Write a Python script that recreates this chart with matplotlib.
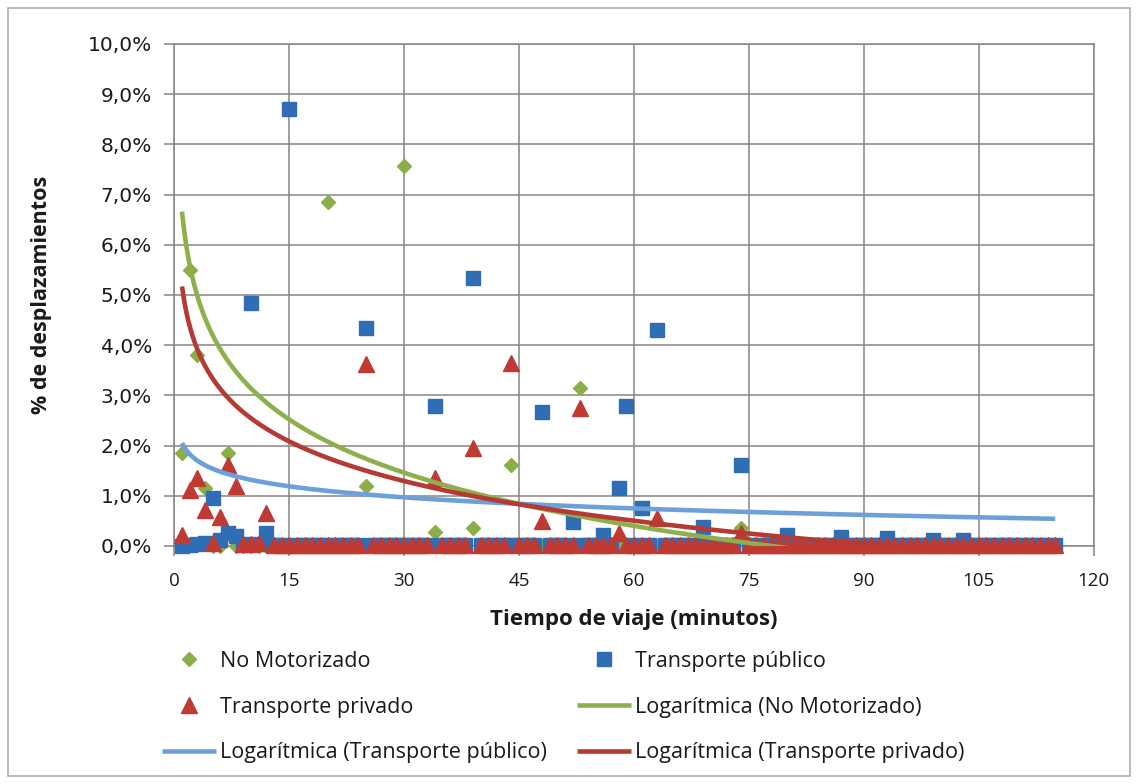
import matplotlib
matplotlib.use('Agg')
import matplotlib.pyplot as plt
import numpy as np
from matplotlib.ticker import FuncFormatter
from matplotlib.patches import Rectangle


# minutes of travel time (1 .. 115)
minutos = list(range(1, 116))

# % de desplazamientos per minute
no_motorizado = [
    1.85, 5.5, 3.8, 1.15, 0.0, 0.0, 1.85, 0.0, 0.0, 0.0,      # 1-10
    0.0, 0.0, 0.0, 0.0, 0.0, 0.0, 0.0, 0.0, 0.0, 6.85,        # 11-20
    0.0, 0.0, 0.0, 0.0, 1.2, 0.0, 0.0, 0.0, 0.0, 7.56,        # 21-30
    0.0, 0.0, 0.0, 0.28, 0.0, 0.0, 0.0, 0.0, 0.35, 0.0,       # 31-40
    0.0, 0.0, 0.0, 1.61, 0.0, 0.0, 0.0, 0.0, 0.0, 0.0,        # 41-50
    0.0, 0.0, 3.15, 0.0, 0.0, 0.0, 0.0, 0.0, 0.0, 0.0,        # 51-60
    0.0, 0.0, 0.0, 0.0, 0.0, 0.0, 0.0, 0.0, 0.0, 0.0,         # 61-70
    0.0, 0.0, 0.0, 0.35, 0.0, 0.0, 0.0, 0.0, 0.0, 0.0,        # 71-80
    0.0, 0.0, 0.0, 0.0, 0.0, 0.0, 0.0, 0.0, 0.0, 0.0,         # 81-90
    0.0, 0.0, 0.0, 0.0, 0.0, 0.0, 0.0, 0.0, 0.0, 0.0,         # 91-100
    0.0, 0.0, 0.0, 0.0, 0.0, 0.0, 0.0, 0.0, 0.0, 0.0,         # 101-110
    0.0, 0.0, 0.0, 0.0, 0.0,                                  # 111-115
]

transporte_publico = [
    0.0, 0.02, 0.03, 0.06, 0.95, 0.12, 0.25, 0.2, 0.03, 4.85,        # 1-10
    0.03, 0.25, 0.02, 0.02, 8.7, 0.02, 0.02, 0.02, 0.02, 0.02,       # 11-20
    0.02, 0.02, 0.02, 0.02, 4.35, 0.02, 0.02, 0.02, 0.02, 0.02,      # 21-30
    0.02, 0.02, 0.02, 2.78, 0.02, 0.02, 0.02, 0.02, 5.33, 0.02,      # 31-40
    0.02, 0.02, 0.02, 0.02, 0.02, 0.02, 0.02, 2.66, 0.02, 0.02,      # 41-50
    0.02, 0.48, 0.02, 0.02, 0.02, 0.22, 0.02, 1.15, 2.78, 0.02,      # 51-60
    0.75, 0.02, 4.3, 0.02, 0.02, 0.02, 0.02, 0.02, 0.38, 0.02,       # 61-70
    0.02, 0.02, 0.02, 1.62, 0.02, 0.02, 0.02, 0.02, 0.02, 0.22,      # 71-80
    0.02, 0.02, 0.02, 0.02, 0.02, 0.02, 0.18, 0.02, 0.02, 0.02,      # 81-90
    0.02, 0.02, 0.15, 0.02, 0.02, 0.02, 0.02, 0.02, 0.12, 0.02,      # 91-100
    0.02, 0.02, 0.12, 0.02, 0.02, 0.02, 0.02, 0.02, 0.02, 0.02,      # 101-110
    0.02, 0.02, 0.02, 0.02, 0.02,                                    # 111-115
]

transporte_privado = [
    0.22, 1.12, 1.35, 0.72, 0.05, 0.58, 1.61, 1.2, 0.03, 0.03,       # 1-10
    0.05, 0.65, 0.02, 0.02, 0.02, 0.02, 0.02, 0.02, 0.02, 0.02,      # 11-20
    0.02, 0.02, 0.02, 0.02, 3.62, 0.02, 0.02, 0.02, 0.02, 0.02,      # 21-30
    0.02, 0.02, 0.02, 1.35, 0.02, 0.02, 0.02, 0.02, 1.95, 0.02,      # 31-40
    0.02, 0.02, 0.02, 3.65, 0.02, 0.02, 0.02, 0.5, 0.02, 0.02,       # 41-50
    0.02, 0.02, 2.75, 0.02, 0.02, 0.02, 0.02, 0.25, 0.02, 0.02,      # 51-60
    0.02, 0.02, 0.55, 0.02, 0.02, 0.02, 0.02, 0.02, 0.02, 0.02,      # 61-70
    0.02, 0.02, 0.02, 0.25, 0.02, 0.02, 0.02, 0.02, 0.02, 0.02,      # 71-80
    0.02, 0.02, 0.02, 0.02, 0.02, 0.02, 0.02, 0.02, 0.02, 0.02,      # 81-90
    0.02, 0.02, 0.02, 0.02, 0.02, 0.02, 0.02, 0.02, 0.02, 0.02,      # 91-100
    0.02, 0.02, 0.02, 0.02, 0.02, 0.02, 0.02, 0.02, 0.02, 0.02,      # 101-110
    0.02, 0.02, 0.02, 0.02, 0.02,                                    # 111-115
]

# logarithmic trendlines y = a - b*ln(x), coefficients
series_names = ['No Motorizado', 'Transporte público', 'Transporte privado']
trend_a = [6.66, 2.05, 5.17]
trend_b = [1.529, 0.318, 1.14]

marker_colors = ['#8CAE48', '#2F6DB5', '#BE3A33']
trend_colors = ['#8DB04C', '#6CA0D8', '#B43A33']

grid_col = '#8C8484'
txt_col = '#1a1a1a'

fig = plt.figure(figsize=(11.38, 7.84), dpi=100)
ax = fig.add_axes([0.1532, 0.3036, 0.8077, 0.6403])

# scatter series (markers are not clipped, like in Excel)
h_nm, = ax.plot(minutos, no_motorizado, linestyle='none', marker='D', ms=6.8,
                color=marker_colors[0], mec=marker_colors[0], clip_on=False, zorder=3)
h_pu, = ax.plot(minutos, transporte_publico, linestyle='none', marker='s', ms=10,
                color=marker_colors[1], mec=marker_colors[1], clip_on=False, zorder=4)
h_pr, = ax.plot(minutos, transporte_privado, linestyle='none', marker='^', ms=12,
                color=marker_colors[2], mec=marker_colors[2], clip_on=False, zorder=5)

# trendlines
xt = np.linspace(min(minutos), max(minutos), 400)
trend_handles = []
for i in range(3):
    yt = trend_a[i] - trend_b[i] * np.log(xt)
    h, = ax.plot(xt, yt, color=trend_colors[i], lw=3.3, zorder=6,
                 solid_capstyle='butt')
    trend_handles.append(h)

ax.set_xlim(0, 120)
ax.set_ylim(0, 10)
ax.set_xticks(np.arange(0, 121, 15))
ax.set_yticks(np.arange(0, 10.1, 1))
ax.yaxis.set_major_formatter(FuncFormatter(lambda v, p: ('%.1f%%' % v).replace('.', ',')))

ax.grid(True, color=grid_col, lw=1.1)
ax.set_axisbelow(True)
for s in ax.spines.values():
    s.set_color(grid_col)
    s.set_linewidth(1.1)

ax.tick_params(axis='y', direction='out', length=7, width=1.1, color=grid_col,
               labelsize=14.5, labelcolor=txt_col, pad=9)
ax.tick_params(axis='x', direction='out', length=7, width=1.1, color=grid_col,
               labelsize=13.5, labelcolor=txt_col, pad=12)
for lab in ax.get_yticklabels():
    lab.set_fontfamily('DejaVu Sans')
for lab in ax.get_xticklabels():
    lab.set_fontfamily('Open Sans')

ax.set_ylabel('% de desplazamientos', fontsize=15.5, fontweight='bold',
              family='Open Sans', color=txt_col)
ax.yaxis.set_label_coords(-0.133, 0.5)
ax.set_xlabel('Tiempo de viaje (minutos)', fontsize=16, fontweight='bold',
              family='Open Sans', color=txt_col)
ax.xaxis.set_label_coords(0.5, -0.126)

# legend, two columns drawn as two legends
fs = 15.5
leg_kw = dict(loc='center left', frameon=False, borderpad=0, borderaxespad=0,
              handlelength=2.5, handletextpad=0.18, labelspacing=1.15,
              numpoints=1, prop={'family': 'Open Sans', 'size': fs})
leg1 = fig.legend([h_nm, h_pr, trend_handles[1]],
                  [series_names[0], series_names[2], 'Logarítmica (' + series_names[1] + ')'],
                  bbox_to_anchor=(162 / 1138, 1 - 707 / 784), **leg_kw)
leg2 = fig.legend([h_pu, trend_handles[0], trend_handles[2]],
                  [series_names[1], 'Logarítmica (' + series_names[0] + ')',
                   'Logarítmica (' + series_names[2] + ')'],
                  bbox_to_anchor=(577 / 1138, 1 - 707 / 784), **leg_kw)
for leg in (leg1, leg2):
    for t in leg.get_texts():
        t.set_color(txt_col)

# light border around the whole chart
fig.patches.append(Rectangle((8 / 1138, 8 / 784), 1122 / 1138, 768 / 784,
                             transform=fig.transFigure, fill=False,
                             edgecolor='#B0B0B0', lw=1.2))

plt.savefig('out.png', dpi=100)
plt.close()
